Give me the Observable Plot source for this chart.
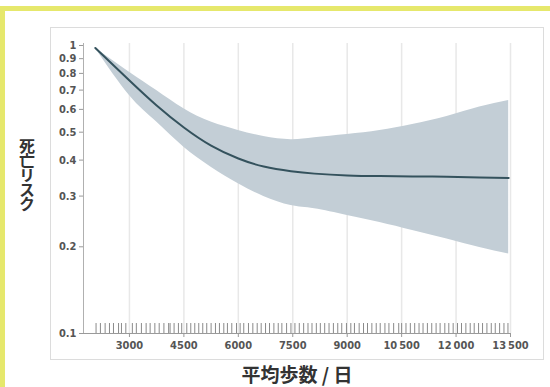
<!DOCTYPE html>
<html>
<head>
<meta charset="utf-8">
<script src="https://cdn.jsdelivr.net/npm/d3@7"></script>
<script src="https://cdn.jsdelivr.net/npm/@observablehq/plot@0.6"></script>
<style>
  html, body { margin: 0; padding: 0; background: #fff; }
  #page { position: relative; width: 550px; height: 387px; overflow: hidden; background: #fff; }
  #ybar { position: absolute; left: 0; top: 6px; width: 5px; height: 381px; background: #e6e86c; }
  #xbar { position: absolute; left: 0; top: 6px; width: 550px; height: 5px; background: #e6e86c; }
  #panel { position: absolute; left: 50px; top: 27px; width: 492px; height: 331px; border: 1px solid #dcdcdc; background: #fff; }
  #chart { position: absolute; left: 0; top: 0; }
  #ylabel { position: absolute; left: 18px; top: 138px; writing-mode: vertical-rl; text-orientation: upright; line-height: 18px;
            font-family: "Noto Sans CJK JP", sans-serif; font-weight: bold; font-size: 16px; color: #333; letter-spacing: -1.5px; }
  #xlabel { position: absolute; left: 197px; width: 200px; top: 364px; height: 22px; line-height: 20px; text-align: center;
            font-family: "Noto Sans CJK JP", sans-serif; font-weight: bold; font-size: 19px; color: #333; white-space: nowrap; }
</style>
</head>
<body>
<div id="page">
  <div id="xbar"></div>
  <div id="ybar"></div>
  <div id="panel"></div>
  <div id="chart"></div>
  <div id="ylabel">死亡リスク</div>
  <div id="xlabel">平均歩数 / 日</div>
</div>
<script>
// Mean daily steps (x) and hazard ratio estimate with confidence band
const steps = [2060, 3000, 3750, 4500, 5250, 6000, 6700, 7450, 8100, 9000, 9900, 10800, 11750, 12650, 13450];
const risk  = [0.98, 0.756, 0.619, 0.519, 0.449, 0.405, 0.380, 0.366, 0.359, 0.354, 0.352, 0.351, 0.350, 0.348, 0.347];
const upper = [0.98, 0.808, 0.698, 0.603, 0.542, 0.507, 0.483, 0.471, 0.478, 0.491, 0.507, 0.532, 0.567, 0.611, 0.644];
const lower = [0.98, 0.670, 0.542, 0.443, 0.378, 0.331, 0.299, 0.278, 0.271, 0.257, 0.243, 0.228, 0.213, 0.199, 0.189];

// Rug of observed step counts
const rugSteps = [2080, 2200, 2330, 2450, 2560, 2700, 2780, 2900, 3080, 3190, 3330, 3460, 3570, 3700, 3820, 3950,
  4080, 4120, 4230, 4350, 4440, 4580, 4690, 4800, 4910, 5020, 5130, 5250, 5370, 5480, 5600, 5700, 5820, 5950,
  6050, 6150, 6280, 6400, 6520, 6630, 6750, 6860, 6980, 7100, 7200, 7330, 7450, 7560, 7680, 7800, 7920, 8030,
  8150, 8260, 8380, 8500, 8620, 8740, 8850, 8980, 9100, 9200, 9330, 9450, 9560, 9680, 9800, 9910, 10040, 10150,
  10280, 10420, 10500, 10620, 10740, 10860, 10980, 11090, 11210, 11330, 11450, 11560, 11690, 11800, 11920, 12040,
  12150, 12270, 12390, 12500, 12620, 12730, 12850, 12970, 13080, 13200, 13320, 13430];

const xTicks = [3000, 4500, 6000, 7500, 9000, 10500, 12000, 13500];
const xTickLabels = ["3000", "4500", "6000", "7500", "9000", "10\u2009500", "12\u2009000", "13\u2009500"];
const yTicks = [1, 0.9, 0.8, 0.7, 0.6, 0.5, 0.4, 0.3, 0.2, 0.1];
const yTickLabels = ["1", "0.9", "0.8", "0.7", "0.6", "0.5", "0.4", "0.3", "0.2", "0.1"];

const xDomain = [1734, 13500];
const yDomain = [0.1, 1.016];
const rugTop = 0.1083;

const data = steps.map((s, i) => ({steps: s, risk: risk[i], upper: upper[i], lower: lower[i]}));

const chart = Plot.plot({
  width: 550,
  height: 387,
  marginLeft: 83,
  marginRight: 40,
  marginTop: 43,
  marginBottom: 54,
  style: {background: "transparent", fontFamily: "'Liberation Sans Narrow', 'DejaVu Sans Condensed', sans-serif", fontSize: "11px", color: "#555"},
  x: {domain: xDomain, ticks: xTicks},
  y: {type: "log", domain: yDomain, ticks: yTicks},
  marks: [
    Plot.ruleX(xTicks, {stroke: "#e8e8e8", strokeWidth: 1.5}),
    Plot.areaY(data, {x: "steps", y1: "lower", y2: "upper", fill: "#c3ced6", curve: "natural"}),
    Plot.lineY(data, {x: "steps", y: "risk", stroke: "#34525d", strokeWidth: 2, curve: "natural"}),
    Plot.ruleX(rugSteps, {x: d => d, y1: yDomain[0], y2: rugTop, stroke: "#8a8a8a", strokeWidth: 1}),
    Plot.ruleY([yDomain[0]], {stroke: "#9a9a9a", strokeWidth: 1}),
    Plot.ruleX([xDomain[0]], {stroke: "#b0b0b0", strokeWidth: 1}),
    Plot.axisX({ticks: xTicks, tickFormat: (d) => xTickLabels[xTicks.indexOf(d)], tickSize: 4, tickPadding: 4, label: null, fontWeight: "bold", stroke: "#999"}),
    Plot.axisY({ticks: yTicks, tickFormat: (d) => yTickLabels[yTicks.indexOf(d)], tickSize: 4, tickPadding: 3, label: null, fontWeight: "bold", stroke: "#999"})
  ]
});
document.getElementById("chart").appendChild(chart);
</script>
</body>
</html>
